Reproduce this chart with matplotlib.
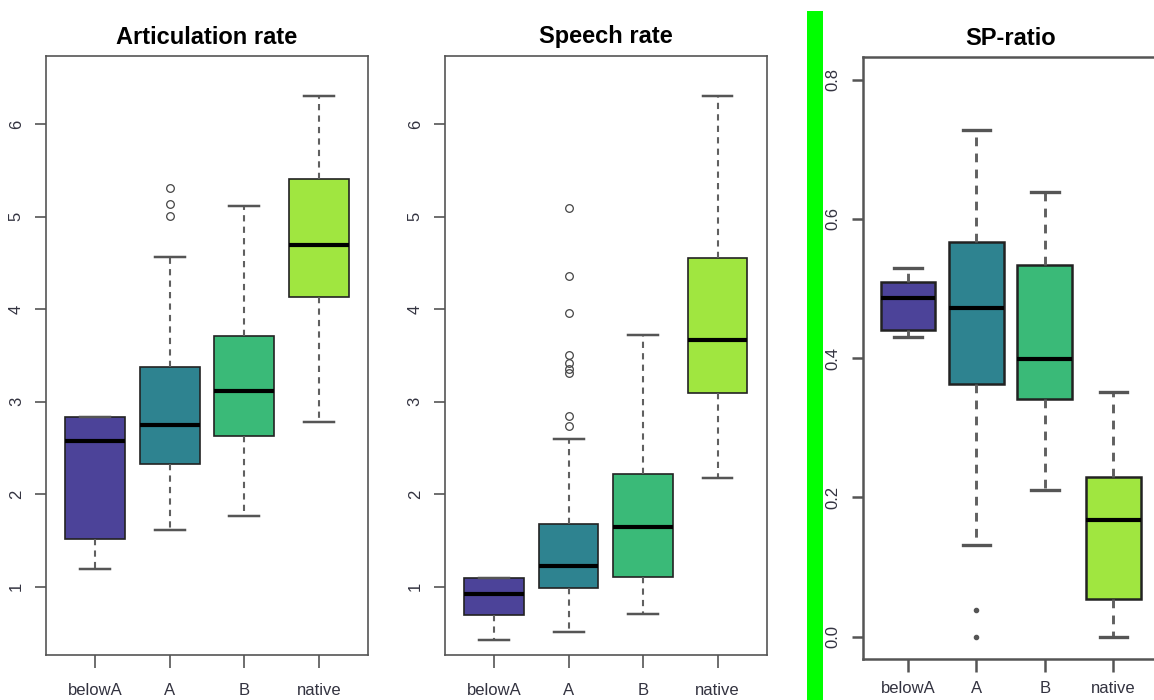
import matplotlib

matplotlib.use("Agg")
import matplotlib.pyplot as plt
from matplotlib.patches import Rectangle

plt.rcParams["font.family"] = ["Liberation Sans", "DejaVu Sans"]

groups = ["belowA", "A", "B", "native"]
box_colors = ["#4C4399", "#2E8390", "#3ABA78", "#A0E640"]

# Articulation rate
art_whislo = [1.19, 1.61, 1.76, 2.78]
art_q1 = [1.52, 2.33, 2.63, 4.13]
art_med = [2.58, 2.75, 3.12, 4.70]
art_q3 = [2.83, 3.38, 3.71, 5.41]
art_whishi = [2.83, 4.57, 5.12, 6.31]
art_fliers = [[], [5.01, 5.14, 5.31], [], []]

# Speech rate
sr_whislo = [0.42, 0.51, 0.70, 2.17]
sr_q1 = [0.69, 0.98, 1.10, 3.09]
sr_med = [0.92, 1.22, 1.64, 3.67]
sr_q3 = [1.09, 1.68, 2.22, 4.55]
sr_whishi = [1.09, 2.60, 3.72, 6.31]
sr_fliers = [[], [2.74, 2.85, 3.31, 3.35, 3.42, 3.51, 3.96, 4.36, 5.10], [], []]

# SP-ratio
sp_whislo = [0.430, 0.132, 0.211, 0.0]
sp_q1 = [0.441, 0.363, 0.342, 0.054]
sp_med = [0.487, 0.472, 0.399, 0.167]
sp_q3 = [0.509, 0.567, 0.534, 0.230]
sp_whishi = [0.530, 0.728, 0.638, 0.351]
sp_fliers = [[], [0.0, 0.038], [], []]

rate_ticks = [1, 2, 3, 4, 5, 6]
ratio_ticks = [0.0, 0.2, 0.4, 0.6, 0.8]


def draw_panel(ax, title, whislo, q1, med, q3, whishi, fliers, ylim, yticks, ytick_labels,
               lw=1.2, flier_style="open", xpad=11):
    stats = []
    for i in range(len(groups)):
        stats.append(dict(whislo=whislo[i], q1=q1[i], med=med[i], q3=q3[i],
                          whishi=whishi[i], fliers=fliers[i], label=groups[i]))
    if flier_style == "open":
        flierprops = dict(marker="o", markerfacecolor="none", markeredgecolor="#444444",
                          markersize=5.5, markeredgewidth=0.9)
    else:
        flierprops = dict(marker="o", markerfacecolor="#555555", markeredgecolor="#555555",
                          markersize=3)
    bp = ax.bxp(stats, positions=range(1, len(groups) + 1), widths=0.8, patch_artist=True,
                capwidths=0.4,
                boxprops=dict(edgecolor="#222222", linewidth=lw),
                medianprops=dict(color="black", linewidth=3),
                whiskerprops=dict(color="#606060", linewidth=lw + 0.3, linestyle=(0, (3, 2.5))),
                capprops=dict(color="#555555", linewidth=lw + 0.6),
                flierprops=flierprops)
    for patch, color in zip(bp["boxes"], box_colors):
        patch.set_facecolor(color)

    ax.set_xlim(0.34, 4.66)
    ax.set_ylim(*ylim)
    ax.set_yticks(yticks)
    ax.set_yticklabels(ytick_labels)
    ax.set_xticks(range(1, len(groups) + 1))
    ax.set_xticklabels(groups)
    ax.tick_params(axis="y", direction="out", length=8, width=lw, color="#555555",
                   labelsize=12, labelcolor="#333340", labelrotation=90, pad=8)
    ax.tick_params(axis="x", direction="out", length=9, width=lw, color="#555555",
                   labelsize=12, labelcolor="#333340", pad=xpad)
    for lab in ax.get_yticklabels():
        lab.set_verticalalignment("center")
    for spine in ax.spines.values():
        spine.set_color("#555555")
        spine.set_linewidth(lw)
    ax.set_title(title, fontsize=17, fontweight="bold", pad=9)


fig = plt.figure(figsize=(11.54, 7.0), dpi=100)

ax1 = fig.add_axes([0.0399, 0.0643, 0.2790, 0.8557])
draw_panel(ax1, "Articulation rate", art_whislo, art_q1, art_med, art_q3, art_whishi,
           art_fliers, (0.26, 6.74), rate_ticks, [str(t) for t in rate_ticks])

ax2 = fig.add_axes([0.3856, 0.0643, 0.2788, 0.8557])
draw_panel(ax2, "Speech rate", sr_whislo, sr_q1, sr_med, sr_q3, sr_whishi,
           sr_fliers, (0.26, 6.74), rate_ticks, [str(t) for t in rate_ticks])

ax3 = fig.add_axes([0.7476, 0.0586, 0.2563, 0.8595])
draw_panel(ax3, "SP-ratio", sp_whislo, sp_q1, sp_med, sp_q3, sp_whishi,
           sp_fliers, (-0.032, 0.832), ratio_ticks, [f"{t:.1f}" for t in ratio_ticks],
           lw=1.8, flier_style="dot", xpad=7)

# bright green separator bar
fig.patches.append(Rectangle((0.6996, 0.0), 0.0139, 0.984, transform=fig.transFigure,
                             facecolor="#00FF00", edgecolor="none", zorder=5))

fig.savefig("out.png", dpi=100)
